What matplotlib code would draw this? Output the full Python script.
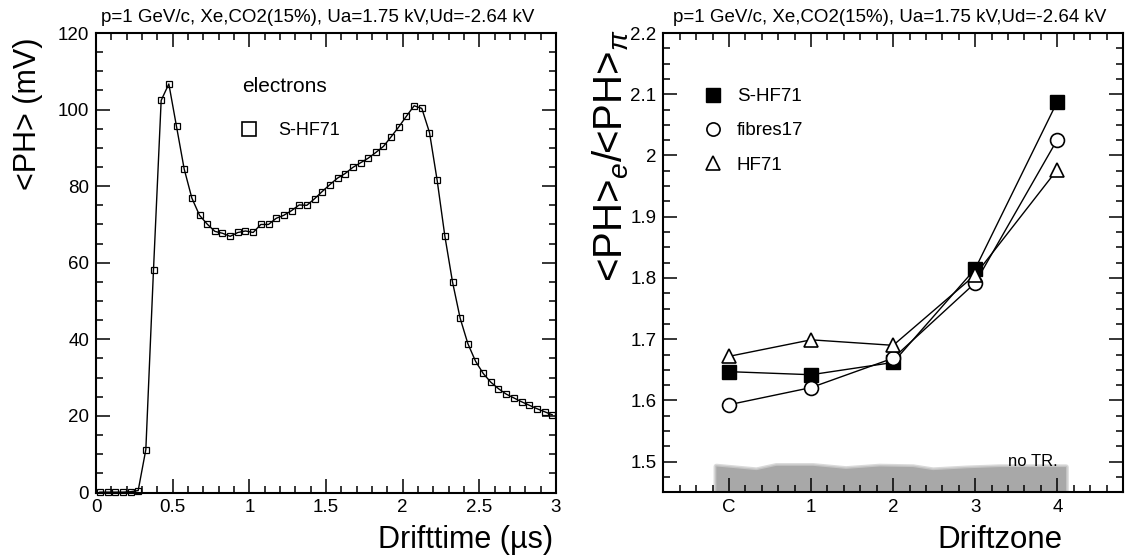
import matplotlib
matplotlib.use('Agg')
import matplotlib.pyplot as plt
from matplotlib.ticker import MultipleLocator, FixedLocator, FuncFormatter
from matplotlib.lines import Line2D

plt.rcParams['font.family'] = ['Liberation Sans', 'DejaVu Sans']
plt.rcParams['mathtext.fontset'] = 'custom'
plt.rcParams['mathtext.rm'] = 'Liberation Sans'
plt.rcParams['mathtext.it'] = 'Liberation Sans:italic'

# ---------------- data ----------------
title_text = 'p=1 GeV/c, Xe,CO2(15%), Ua=1.75 kV,Ud=-2.64 kV'

drift_time = [0.025, 0.075, 0.125, 0.175, 0.225, 0.275, 0.325, 0.375, 0.425, 0.475,
              0.525, 0.575, 0.625, 0.675, 0.725, 0.775, 0.825, 0.875, 0.925, 0.975,
              1.025, 1.075, 1.125, 1.175, 1.225, 1.275, 1.325, 1.375, 1.425, 1.475,
              1.525, 1.575, 1.625, 1.675, 1.725, 1.775, 1.825, 1.875, 1.925, 1.975,
              2.025, 2.075, 2.125, 2.175, 2.225, 2.275, 2.325, 2.375, 2.425, 2.475,
              2.525, 2.575, 2.625, 2.675, 2.725, 2.775, 2.825, 2.875, 2.925, 2.975]
ph_shf71 = [0.1, 0.1, 0.1, 0.1, 0.2, 0.5, 11.2, 58.2, 102.4, 106.7,
            95.6, 84.5, 76.9, 72.4, 70.1, 68.2, 67.7, 66.9, 67.9, 68.3,
            67.9, 70.0, 70.0, 71.6, 72.4, 73.6, 75.1, 75.0, 76.7, 78.6,
            80.4, 82.1, 83.3, 84.9, 86.1, 87.3, 88.8, 90.4, 92.9, 95.5,
            98.3, 101.0, 100.3, 94.0, 81.5, 67.0, 55.0, 45.5, 38.9, 34.3,
            31.1, 28.8, 27.1, 25.7, 24.7, 23.7, 22.8, 21.9, 21.1, 20.3]

zone_pos = [0, 1, 2, 3, 4]
zone_labels = ['C', '1', '2', '3', '4']
ratio_shf71 = [1.647, 1.642, 1.662, 1.815, 2.088]
ratio_fibres17 = [1.593, 1.621, 1.669, 1.792, 2.026]
ratio_hf71 = [1.672, 1.699, 1.690, 1.805, 1.977]

band_x = [-0.16, 0.33, 0.57, 1.02, 1.42, 1.83, 2.24, 2.48, 2.89, 3.29, 4.1]
band_top = [1.493, 1.487, 1.494, 1.494, 1.489, 1.493, 1.492, 1.487, 1.490, 1.492, 1.492]

# ---------------- layout ----------------
W, H = 1136, 559
fig = plt.figure(figsize=(W / 100, H / 100), dpi=100)


def fx(px):
    return px / W


def fy(py):
    return 1 - py / H


axL = fig.add_axes([fx(96), fy(492.5), 460 / W, 459.5 / H])
axR = fig.add_axes([fx(663.3), fy(492.3), 459.7 / W, 459.3 / H])

for ax in (axL, axR):
    for s in ax.spines.values():
        s.set_linewidth(1.5)
    ax.tick_params(which='both', direction='in', top=True, right=True,
                   width=1.1, labelsize=13.5, pad=5)
    ax.tick_params(which='major', length=10)
    ax.tick_params(which='minor', length=5)

fmt_g = FuncFormatter(lambda v, p: f'{round(v, 4):g}')

# ---------------- left panel ----------------
axL.plot(drift_time, ph_shf71, '-', color='k', lw=1.0, marker='s', ms=4,
         mfc='none', mec='k', mew=0.9, clip_on=False, zorder=3)
axL.set_xlim(0, 3)
axL.set_ylim(0, 120)
axL.xaxis.set_major_locator(MultipleLocator(0.5))
axL.xaxis.set_minor_locator(MultipleLocator(0.1))
axL.yaxis.set_major_locator(MultipleLocator(20))
axL.yaxis.set_minor_locator(MultipleLocator(5))
axL.xaxis.set_major_formatter(fmt_g)
axL.yaxis.set_major_formatter(fmt_g)

fig.text(fx(242), fy(87), 'electrons', fontsize=15, ha='left', va='center')
hL = [Line2D([], [], ls='none', marker='s', ms=9.5, mfc='none', mec='k', mew=1.2)]
axL.legend(hL, ['S-HF71'], loc='upper left', bbox_to_anchor=(fx(240), fy(122)),
           bbox_transform=fig.transFigure, frameon=False, fontsize=13,
           handlelength=1.0, handletextpad=1.1, borderpad=0, borderaxespad=0)

fig.text(fx(318), fy(18), title_text, fontsize=13.5, ha='center', va='center')
fig.text(fx(28), fy(38), '<PH> (mV)', fontsize=22, rotation=90, ha='center', va='top')
fig.text(fx(553), fy(540), 'Drifttime (\u00b5s)', fontsize=22, ha='right', va='center')

# ---------------- right panel ----------------
axR.fill_between(band_x, 1.45, band_top, color='#dadada', lw=4, edgecolor='#dadada', zorder=1)
axR.fill_between(band_x, 1.45, band_top, color='#c4c4c4', lw=2, edgecolor='#c4c4c4', zorder=1.05)
axR.fill_between(band_x, 1.45, band_top, color='#a8a8a8', lw=0, zorder=1.1)
axR.text(4.0, 1.488, 'no TR.', fontsize=12, ha='right', va='bottom', zorder=2)

axR.plot(zone_pos, ratio_shf71, '-', color='k', lw=1.0, marker='s', ms=10,
         mfc='k', mec='k', zorder=3)
axR.plot(zone_pos, ratio_fibres17, '-', color='k', lw=1.0, marker='o', ms=10,
         mfc='white', mec='k', mew=1.2, zorder=3)
axR.plot(zone_pos, ratio_hf71, '-', color='k', lw=1.0, marker='^', ms=10,
         mfc='white', mec='k', mew=1.2, zorder=3)
axR.set_xlim(-0.8, 4.8)
axR.set_ylim(1.45, 2.2)
axR.xaxis.set_major_locator(FixedLocator(zone_pos))
axR.set_xticklabels(zone_labels)
axR.xaxis.set_minor_locator(MultipleLocator(0.2))
axR.yaxis.set_major_locator(MultipleLocator(0.1))
axR.yaxis.set_minor_locator(MultipleLocator(0.025))
axR.yaxis.set_major_formatter(fmt_g)

hR = [Line2D([], [], ls='none', marker='s', ms=9.5, mfc='k', mec='k'),
      Line2D([], [], ls='none', marker='o', ms=9.5, mfc='white', mec='k', mew=1.2),
      Line2D([], [], ls='none', marker='^', ms=9.5, mfc='white', mec='k', mew=1.2)]
axR.legend(hR, ['S-HF71', 'fibres17', 'HF71'], loc='upper left',
           bbox_to_anchor=(fx(703.6), fy(88)), bbox_transform=fig.transFigure,
           frameon=False, fontsize=13.5, handlelength=1.0, handletextpad=0.78,
           labelspacing=0.91, borderpad=0, borderaxespad=0)

fig.text(fx(890), fy(18), title_text, fontsize=13.5, ha='center', va='center')
fig.text(fx(611), fy(29), '<PH>$_{e}$/<PH>$_{\\pi}$', fontsize=29, rotation=90,
         ha='center', va='top')
fig.text(fx(1063), fy(540), 'Driftzone', fontsize=22.5, ha='right', va='center')

fig.savefig('out.png', dpi=100)
